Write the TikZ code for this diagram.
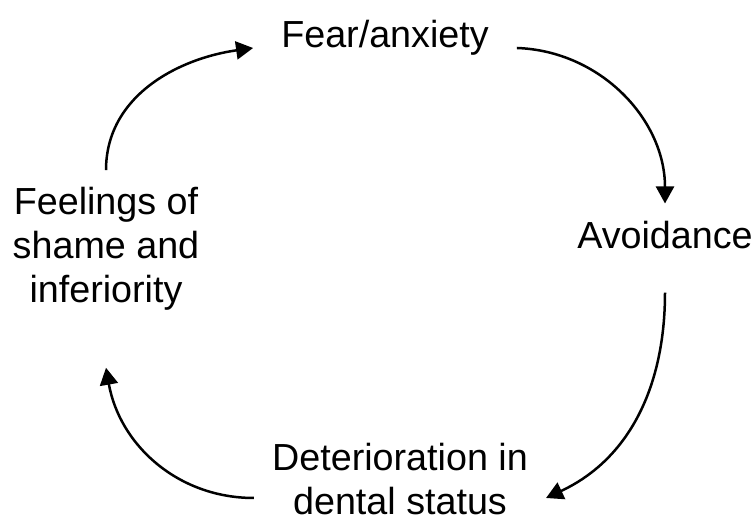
\documentclass[tikz,border=0pt]{standalone}
\usepackage{fontspec}
\setmainfont{Liberation Sans}
\usetikzlibrary{arrows.meta}
\tikzset{
  lbl/.style={inner sep=0pt, align=center, font=\fontsize{37.7pt}{44pt}\selectfont},
  cyc/.style={line width=2.5pt, -{Triangle[length=17pt,width=18pt]}}
}
\begin{document}
\begin{tikzpicture}[x=1pt,y=1pt]
                    \useasboundingbox (0,0) rectangle (755,519);
                    \node[lbl, anchor=base] (fear) at (385,471) {Fear/anxiety};
                    \node[lbl, anchor=base] (avoid) at (665,270) {Avoidance};
                    \node[lbl] (deter) at (400,40) {Deterioration in\\dental status};
                    \node[lbl] (shame) at (106,270) {Feelings of\\shame and\\inferiority};

                    \draw[cyc] ([xshift=28pt]fear.base east) to[out=-2,in=90] ([yshift=18pt]avoid.north);
                    \draw[cyc] ([yshift=-43pt]avoid.south) to[out=-90,in=25] ([xshift=18pt,yshift=-19pt]deter.east);
                    \draw[cyc] ([xshift=-18pt,yshift=-19pt]deter.west) to[out=180,in=-80] ([yshift=-57pt]shame.south);
                    \draw[cyc] ([yshift=17pt]shame.north) to[out=90,in=188] ([xshift=-28pt]fear.base west);
                \end{tikzpicture}
\end{document}
